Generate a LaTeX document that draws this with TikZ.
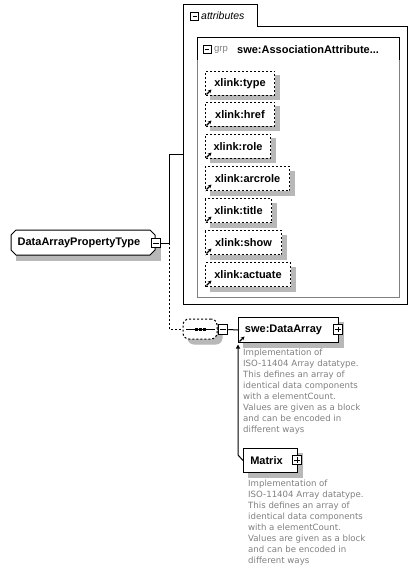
\documentclass[tikz,border=0pt]{standalone}
\usepackage{fontspec}
\setmainfont{Liberation Sans}
\newfontfamily\descfont{DejaVu Sans}
\usetikzlibrary{shapes.misc,arrows.meta}
\colorlet{shadowgray}{black!28}
\definecolor{descgray}{RGB}{128,128,128}
\definecolor{grpgray}{RGB}{128,128,128}
\begin{document}
\begin{tikzpicture}[x=1pt,y=-1pt,
  boxfont/.style={font=\bfseries\fontsize{11}{13}\selectfont},
  attrbox/.style={boxfont,draw,line width=1pt,dash pattern=on 2pt off 2pt,fill=white,
    minimum height=24,inner sep=0pt,anchor=north west},
  elembox/.style={boxfont,draw,line width=1pt,fill=white,minimum height=25,inner sep=0pt,anchor=north west},
  shad/.style={fill=shadowgray,draw=shadowgray,line width=1pt},
  pmbox/.style={draw,fill=white,line width=1pt,minimum size=9.5pt,inner sep=0pt},
  minusbox/.style={pmbox,path picture={\draw[line width=1pt]
      ([xshift=2pt]path picture bounding box.west) -- ([xshift=-2pt]path picture bounding box.east);}},
  plusbox/.style={pmbox,path picture={\draw[line width=1pt]
      ([xshift=2pt]path picture bounding box.west) -- ([xshift=-2pt]path picture bounding box.east)
      ([yshift=-2pt]path picture bounding box.north) -- ([yshift=2pt]path picture bounding box.south);}},
  linkarrow/.style={line width=1.1pt,-{Stealth[length=3.5pt,width=3.5pt]}},
  desc/.style={font=\descfont\fontsize{8.6}{11}\selectfont,text=descgray,align=left,inner sep=0pt,anchor=north west},
  conn/.style={line width=1pt},
  dconn/.style={line width=1pt,dash pattern=on 2pt off 2pt}
]
\fill[white] (0,0) rectangle (417,572);
\useasboundingbox (0,0) rectangle (417,572);

% attributes container
\draw[line width=1pt] (183,5) -- (257,5) -- (257,27) -- (407,27) -- (407,304) -- (183,304) -- cycle;
\node[minusbox,minimum size=8pt] (attrminus) at (194.5,16.5) {};
\node[anchor=west,inner sep=0pt,font=\itshape\fontsize{10.5}{12}\selectfont] (attrlabel) at (201,16) {attributes};
\coordinate (attrIn) at (183,155);

% grp box
\draw[line width=1pt] (197,60) -- (197,38) -- (399,38) -- (399,60);
\draw[line width=1pt,grpgray] (197,60) -- (197,297) -- (399,297) -- (399,60);
\node[minusbox,minimum size=8pt] (grpminus) at (207,50) {};
\node[anchor=west,inner sep=0pt,font=\fontsize{9.5}{11}\selectfont,text=grpgray] (grplabel) at (214,49.5) {grp};
\node[anchor=west,inner sep=0pt,boxfont] (grpname) at (237,49.5) {swe:AssociationAttribute...};

% attribute boxes (shadow first, then box)
\foreach \n/\yy/\ww/\txt in {a1/71/69/xlink:type, a2/102/69/xlink:href, a3/134/65/xlink:role,
    a4/166/84/xlink:arcrole, a5/198/66/xlink:title, a6/230/76/xlink:show, a7/262/85/xlink:actuate}{
  \path[shad] (210,\yy+5) rectangle (210+\ww,\yy+29);
  \node[attrbox,minimum width=\ww] (\n) at (205,\yy) {\txt};
  \draw[linkarrow] ([xshift=1.5pt,yshift=1.5pt]\n.south west) -- ++(5,-5);
}

% root type
\path[shad] (16,239) rectangle (160,260);
\node[boxfont,draw,line width=1pt,fill=white,chamfered rectangle,chamfered rectangle xsep=2.5pt,
  chamfered rectangle ysep=2.5pt,minimum width=144,minimum height=25,inner sep=0pt] (root) at (83,242.5)
  {\hspace*{-8pt}DataArrayPropertyType};
\node[minusbox] (rootminus) at (156,243) {};
\coordinate (split) at (169,243);

% sequence compositor
\path[shad,rounded corners=6pt] (188,324) rectangle (222,344);
\node[draw,line width=1pt,dash pattern=on 2pt off 2pt,fill=white,rounded corners=6pt,
  minimum width=34,minimum height=20,inner sep=0pt] (seq) at (200,329) {};
\draw[line width=1pt] ([xshift=3pt]seq.west) -- ([xshift=-3pt]seq.east);
\foreach \xx in {196,200,204}{\fill (\xx-1.5,327.5) rectangle (\xx+1.5,330.5);}
\node[minusbox] (seqminus) at (223,329.5) {};

% DataArray element
\path[shad] (243,322) rectangle (343,347);
\node[elembox,minimum width=100] (da) at (238,317) {\hspace*{-2pt}swe:DataArray\hspace*{8pt}};
\node[plusbox] (daplus) at (338,329.5) {};
\draw[linkarrow] ([xshift=1.5pt,yshift=1.5pt]da.south west) -- ++(5,-5);
\node[desc] (dadesc) at (243,349) {Implementation of\\ISO-11404 Array datatype.\\This defines an array of\\identical data components\\with a elementCount.\\Values are given as a block\\and can be encoded in\\different ways};

% Matrix element
\path[shad] (248,453) rectangle (302,477);
\node[elembox,minimum width=54,minimum height=24] (mx) at (243,448) {\hspace*{-2pt}Matrix\hspace*{6pt}};
\node[plusbox] (mxplus) at (297,460) {};
\node[desc] (mxdesc) at (248,480) {Implementation of\\ISO-11404 Array datatype.\\This defines an array of\\identical data components\\with a elementCount.\\Values are given as a block\\and can be encoded in\\different ways};
\coordinate (bend) at (238,455);

% connectors
\draw[conn] (rootminus.east) -- (split) |- (attrIn);
\draw[dconn] (split) |- (seq.west);
\draw[conn] (seq.east) -- (seqminus.west);
\draw[conn] (seqminus.east) -- (da.west);
\draw[line width=1pt,-{Triangle[length=4pt,width=4pt]},shorten >=1.5pt] (mx.west) -- (bend) -- (da.south west);
\end{tikzpicture}
\end{document}
